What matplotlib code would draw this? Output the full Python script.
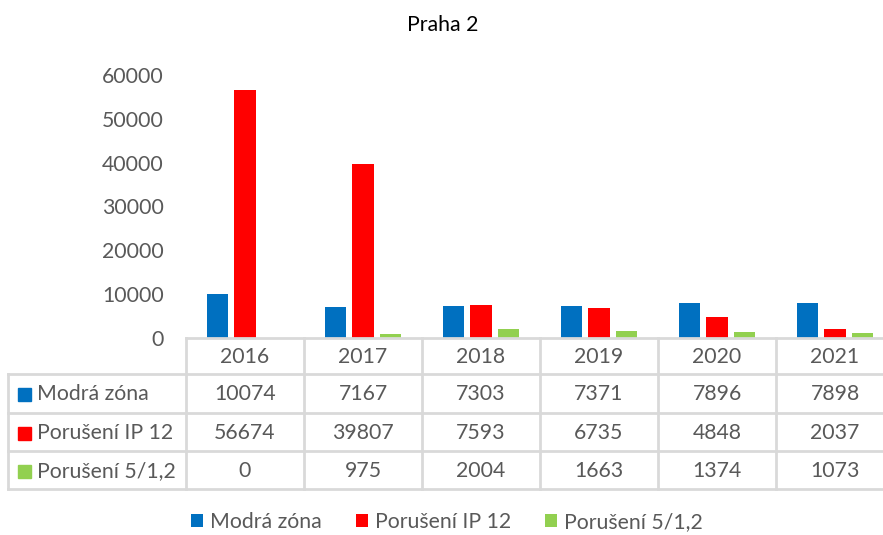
import numpy as np
import matplotlib.pyplot as plt
from matplotlib.patches import Rectangle

years = ["2016", "2017", "2018", "2019", "2020", "2021"]
series = ["Modrá zóna", "Porušení IP 12", "Porušení 5/1,2"]
modra_zona = [10074, 7167, 7303, 7371, 7896, 7898]
poruseni_ip12 = [56674, 39807, 7593, 6735, 4848, 2037]
poruseni_512 = [0, 975, 2004, 1663, 1374, 1073]
colors = ["#0070C0", "#FF0000", "#92D050"]
yticks = [0, 10000, 20000, 30000, 40000, 50000, 60000]

plt.rcParams['font.family'] = ['Lato', 'DejaVu Sans']
txt = "#595959"
grid = "#D9D9D9"
W, H = 883, 535
fs = 15.3

fig = plt.figure(figsize=(W / 100, H / 100), dpi=100)
# plot area in pixels: left 186, right 894 (cut off), top 75, bottom 338
ax = fig.add_axes([186 / W, 1 - 338 / H, (894 - 186) / W, (338 - 75) / H])

values = [modra_zona, poruseni_ip12, poruseni_512]
x = np.arange(len(years))
bw = 0.178
step = 0.229
for i, (name, vals) in enumerate(zip(series, values)):
    ax.bar(x + (i - 1) * step, vals, width=bw, color=colors[i], label=name, zorder=2)

ax.set_xlim(-0.5, len(years) - 0.5)
ax.set_ylim(0, 60000)
ax.set_yticks(yticks)
ax.set_yticklabels([str(v) for v in yticks])
ax.set_xticks([])
ax.tick_params(axis='y', length=0, labelsize=fs, labelcolor=txt, pad=16)
for s in ["top", "right", "left"]:
    ax.spines[s].set_visible(False)
ax.spines["bottom"].set_color(grid)
ax.spines["bottom"].set_linewidth(2)

fig.text(443 / W, 1 - 25 / H, "Praha 2", ha="center", va="center", fontsize=fs, color="black")

# data table under the axis
rows_px = [338, 374, 413, 451, 489]
left_px, col0_px = 8, 186
col_w = (894 - 186) / 6
trf = fig.transFigure
lw = 2

def fy(p):
    return 1 - p / H

def fx(p):
    return p / W

# horizontal lines (the top one is the axis itself)
for r in rows_px[1:]:
    fig.add_artist(plt.Line2D([fx(left_px), fx(900)], [fy(r), fy(r)], transform=trf, color=grid, lw=lw))
# vertical lines
for k in range(7):
    xp = col0_px + k * col_w
    fig.add_artist(plt.Line2D([fx(xp), fx(xp)], [fy(rows_px[0]), fy(rows_px[-1])], transform=trf, color=grid, lw=lw))
fig.add_artist(plt.Line2D([fx(left_px), fx(left_px)], [fy(rows_px[1]), fy(rows_px[-1])], transform=trf, color=grid, lw=lw))

# header
for k, yr in enumerate(years):
    cx = col0_px + (k + 0.5) * col_w
    fig.text(fx(cx), fy((rows_px[0] + rows_px[1]) / 2 + 1), yr, ha="center", va="center", fontsize=fs, color=txt)

# rows
for i, (name, vals) in enumerate(zip(series, values)):
    cy = (rows_px[i + 1] + rows_px[i + 2]) / 2 + 1
    fig.add_artist(Rectangle((fx(18), fy(cy + 6.5)), 13 / W, 13 / H, transform=trf, color=colors[i]))
    fig.text(fx(37), fy(cy), name, ha="left", va="center", fontsize=fs, color=txt)
    for k, v in enumerate(vals):
        cx = col0_px + (k + 0.5) * col_w
        fig.text(fx(cx), fy(cy), str(v), ha="center", va="center", fontsize=fs, color=txt)

leg = fig.legend(loc="center", bbox_to_anchor=(447 / W, 1 - 522 / H), ncol=3, frameon=False,
                 fontsize=fs, handlelength=0.55, handleheight=0.55, handletextpad=0.35,
                 columnspacing=1.6, labelcolor=txt)

fig.savefig("out.png", dpi=100)
